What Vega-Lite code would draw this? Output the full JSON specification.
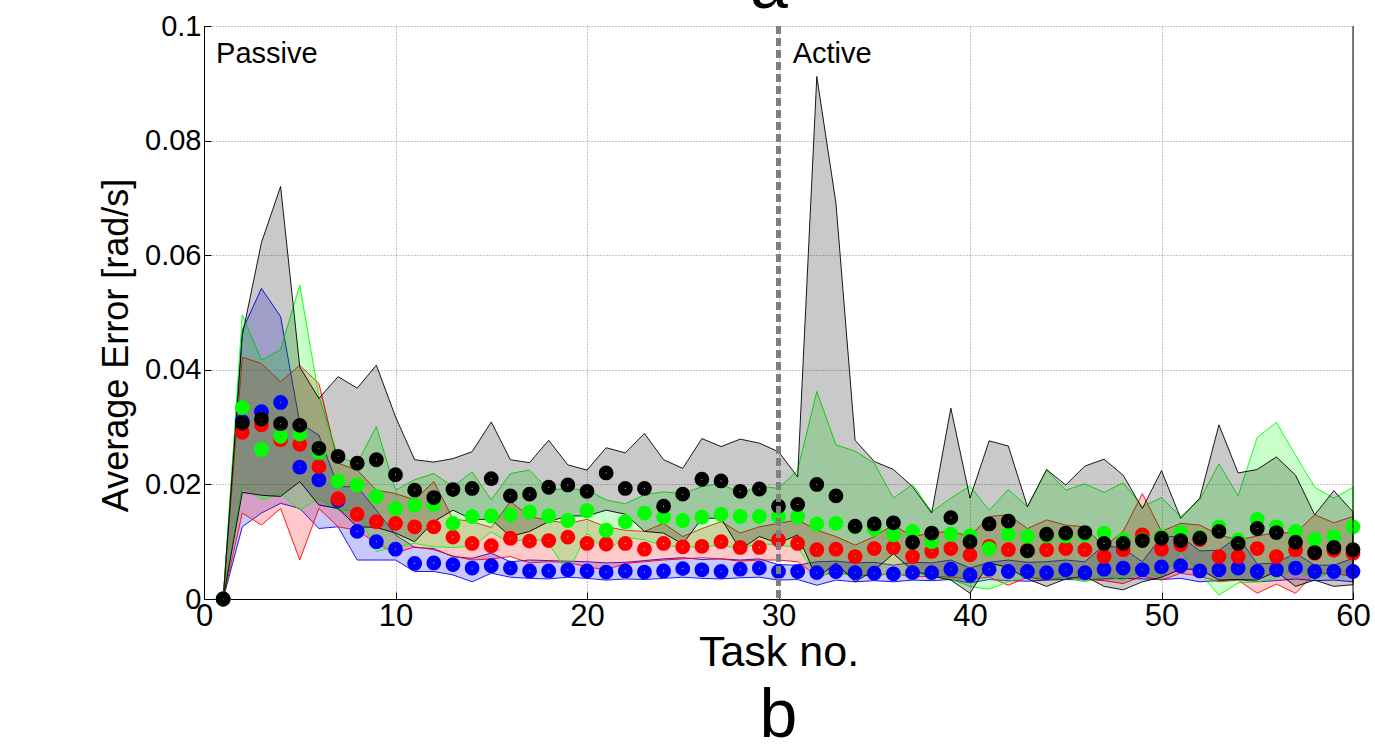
{
"$schema":"https://vega.github.io/schema/vega-lite/v6.json",
"autosize":"none","width":1149,"height":573,
"padding":{"left":204,"top":26,"right":22,"bottom":146},
"background":"white",
"title":{"text":"b","orient":"bottom","fontSize":68,"font":"Liberation Sans","fontWeight":"normal","anchor":"middle","offset":9,"color":"black"},
"config":{"view":{"stroke":null},"axis":{"domainColor":"black","tickColor":"black","labelColor":"black","titleColor":"black","labelFont":"Liberation Sans","titleFont":"Liberation Sans","titleFontWeight":"normal","gridColor":"#000","gridOpacity":0.45,"gridDash":[1,2],"gridWidth":1}},
"datasets":{"d":[
{"task":1,"series":"blue","mean":0,"lo":0,"hi":0},{"task":2,"series":"blue","mean":0.031,"lo":0.0126,"hi":0.0469},{"task":3,"series":"blue","mean":0.0327,"lo":0.015,"hi":0.0542},{"task":4,"series":"blue","mean":0.0343,"lo":0.0167,"hi":0.0493},{"task":5,"series":"blue","mean":0.023,"lo":0.0158,"hi":0.0307},{"task":6,"series":"blue","mean":0.0208,"lo":0.0123,"hi":0.0286},{"task":7,"series":"blue","mean":0.0172,"lo":0.0126,"hi":0.0196},{"task":8,"series":"blue","mean":0.0118,"lo":0.0068,"hi":0.0196},{"task":9,"series":"blue","mean":0.01,"lo":0.0068,"hi":0.0155},{"task":10,"series":"blue","mean":0.0087,"lo":0.0068,"hi":0.0112},
{"task":11,"series":"blue","mean":0.0062,"lo":0.0048,"hi":0.009},{"task":12,"series":"blue","mean":0.0063,"lo":0.0048,"hi":0.0088},{"task":13,"series":"blue","mean":0.006,"lo":0.0042,"hi":0.0074},{"task":14,"series":"blue","mean":0.0054,"lo":0.003,"hi":0.0071},{"task":15,"series":"blue","mean":0.0058,"lo":0.0045,"hi":0.008},{"task":16,"series":"blue","mean":0.0054,"lo":0.0038,"hi":0.0065},{"task":17,"series":"blue","mean":0.0049,"lo":0.0036,"hi":0.0068},{"task":18,"series":"blue","mean":0.0049,"lo":0.0035,"hi":0.0067},{"task":19,"series":"blue","mean":0.0051,"lo":0.0038,"hi":0.0066},{"task":20,"series":"blue","mean":0.0049,"lo":0.0036,"hi":0.0065},
{"task":21,"series":"blue","mean":0.0047,"lo":0.0033,"hi":0.0063},{"task":22,"series":"blue","mean":0.0049,"lo":0.0035,"hi":0.0064},{"task":23,"series":"blue","mean":0.0047,"lo":0.0034,"hi":0.0067},{"task":24,"series":"blue","mean":0.0049,"lo":0.0036,"hi":0.007},{"task":25,"series":"blue","mean":0.0053,"lo":0.0038,"hi":0.0072},{"task":26,"series":"blue","mean":0.0051,"lo":0.0036,"hi":0.0069},{"task":27,"series":"blue","mean":0.0048,"lo":0.0035,"hi":0.007},{"task":28,"series":"blue","mean":0.0052,"lo":0.0037,"hi":0.0068},{"task":29,"series":"blue","mean":0.0054,"lo":0.0038,"hi":0.007},{"task":30,"series":"blue","mean":0.0048,"lo":0.0033,"hi":0.006},
{"task":31,"series":"blue","mean":0.0048,"lo":0.0034,"hi":0.0059},{"task":32,"series":"blue","mean":0.0046,"lo":0.0024,"hi":0.0065},{"task":33,"series":"blue","mean":0.0048,"lo":0.0033,"hi":0.0066},{"task":34,"series":"blue","mean":0.0046,"lo":0.003,"hi":0.0063},{"task":35,"series":"blue","mean":0.0045,"lo":0.0032,"hi":0.0064},{"task":36,"series":"blue","mean":0.0044,"lo":0.003,"hi":0.0059},{"task":37,"series":"blue","mean":0.0046,"lo":0.0033,"hi":0.0064},{"task":38,"series":"blue","mean":0.0046,"lo":0.0032,"hi":0.0063},{"task":39,"series":"blue","mean":0.0052,"lo":0.0034,"hi":0.0068},{"task":40,"series":"blue","mean":0.0042,"lo":0.0028,"hi":0.0054},
{"task":41,"series":"blue","mean":0.0052,"lo":0.0034,"hi":0.0064},{"task":42,"series":"blue","mean":0.0048,"lo":0.0032,"hi":0.0068},{"task":43,"series":"blue","mean":0.0048,"lo":0.0031,"hi":0.0064},{"task":44,"series":"blue","mean":0.0046,"lo":0.0033,"hi":0.0065},{"task":45,"series":"blue","mean":0.0051,"lo":0.0034,"hi":0.0068},{"task":46,"series":"blue","mean":0.0046,"lo":0.0033,"hi":0.0065},{"task":47,"series":"blue","mean":0.0052,"lo":0.0035,"hi":0.0094},{"task":48,"series":"blue","mean":0.0054,"lo":0.0036,"hi":0.0088},{"task":49,"series":"blue","mean":0.0051,"lo":0.0035,"hi":0.0065},{"task":50,"series":"blue","mean":0.0056,"lo":0.0034,"hi":0.0109},
{"task":51,"series":"blue","mean":0.0058,"lo":0.0036,"hi":0.0109},{"task":52,"series":"blue","mean":0.0049,"lo":0.003,"hi":0.0084},{"task":53,"series":"blue","mean":0.0051,"lo":0.0032,"hi":0.0085},{"task":54,"series":"blue","mean":0.0054,"lo":0.0034,"hi":0.0109},{"task":55,"series":"blue","mean":0.0048,"lo":0.003,"hi":0.0061},{"task":56,"series":"blue","mean":0.0051,"lo":0.0032,"hi":0.0063},{"task":57,"series":"blue","mean":0.0054,"lo":0.0035,"hi":0.008},{"task":58,"series":"blue","mean":0.0048,"lo":0.0032,"hi":0.0059},{"task":59,"series":"blue","mean":0.0048,"lo":0.0033,"hi":0.0059},{"task":60,"series":"blue","mean":0.0048,"lo":0.003,"hi":0.0071},
{"task":1,"series":"red","mean":0,"lo":0,"hi":0},{"task":2,"series":"red","mean":0.0291,"lo":0.015,"hi":0.0422},{"task":3,"series":"red","mean":0.0304,"lo":0.0129,"hi":0.0411},{"task":4,"series":"red","mean":0.0278,"lo":0.0158,"hi":0.0379},{"task":5,"series":"red","mean":0.027,"lo":0.0068,"hi":0.0408},{"task":6,"series":"red","mean":0.0231,"lo":0.0158,"hi":0.0376},{"task":7,"series":"red","mean":0.0175,"lo":0.0126,"hi":0.0237},{"task":8,"series":"red","mean":0.0148,"lo":0.012,"hi":0.0225},{"task":9,"series":"red","mean":0.0135,"lo":0.0097,"hi":0.019},{"task":10,"series":"red","mean":0.0132,"lo":0.008,"hi":0.0184},
{"task":11,"series":"red","mean":0.0126,"lo":0.0091,"hi":0.0173},{"task":12,"series":"red","mean":0.0126,"lo":0.0086,"hi":0.0205},{"task":13,"series":"red","mean":0.0108,"lo":0.0075,"hi":0.014},{"task":14,"series":"red","mean":0.0097,"lo":0.0068,"hi":0.0135},{"task":15,"series":"red","mean":0.0093,"lo":0.007,"hi":0.0125},{"task":16,"series":"red","mean":0.0106,"lo":0.0074,"hi":0.017},{"task":17,"series":"red","mean":0.0101,"lo":0.0063,"hi":0.0144},{"task":18,"series":"red","mean":0.0102,"lo":0.0065,"hi":0.0137},{"task":19,"series":"red","mean":0.0108,"lo":0.0064,"hi":0.0132},{"task":20,"series":"red","mean":0.0097,"lo":0.0056,"hi":0.0139},
{"task":21,"series":"red","mean":0.0096,"lo":0.0051,"hi":0.0126},{"task":22,"series":"red","mean":0.0097,"lo":0.0062,"hi":0.012},{"task":23,"series":"red","mean":0.0087,"lo":0.0065,"hi":0.0118},{"task":24,"series":"red","mean":0.0097,"lo":0.0068,"hi":0.0132},{"task":25,"series":"red","mean":0.0091,"lo":0.007,"hi":0.0109},{"task":26,"series":"red","mean":0.0092,"lo":0.0072,"hi":0.0123},{"task":27,"series":"red","mean":0.01,"lo":0.007,"hi":0.0135},{"task":28,"series":"red","mean":0.009,"lo":0.0066,"hi":0.0115},{"task":29,"series":"red","mean":0.009,"lo":0.0068,"hi":0.0126},{"task":30,"series":"red","mean":0.0103,"lo":0.0068,"hi":0.0132},
{"task":31,"series":"red","mean":0.0097,"lo":0.0065,"hi":0.0138},{"task":32,"series":"red","mean":0.0086,"lo":0.004,"hi":0.012},{"task":33,"series":"red","mean":0.0087,"lo":0.0047,"hi":0.0109},{"task":34,"series":"red","mean":0.0074,"lo":0.0042,"hi":0.0094},{"task":35,"series":"red","mean":0.0088,"lo":0.004,"hi":0.0109},{"task":36,"series":"red","mean":0.009,"lo":0.0045,"hi":0.0129},{"task":37,"series":"red","mean":0.0074,"lo":0.0038,"hi":0.0109},{"task":38,"series":"red","mean":0.0083,"lo":0.004,"hi":0.0115},{"task":39,"series":"red","mean":0.0088,"lo":0.0038,"hi":0.0118},{"task":40,"series":"red","mean":0.0077,"lo":0.0035,"hi":0.0109},
{"task":41,"series":"red","mean":0.0092,"lo":0.0038,"hi":0.0144},{"task":42,"series":"red","mean":0.0086,"lo":0.0024,"hi":0.0147},{"task":43,"series":"red","mean":0.0085,"lo":0.0038,"hi":0.0123},{"task":44,"series":"red","mean":0.0086,"lo":0.0033,"hi":0.0138},{"task":45,"series":"red","mean":0.0088,"lo":0.0038,"hi":0.0129},{"task":46,"series":"red","mean":0.0086,"lo":0.0035,"hi":0.0126},{"task":47,"series":"red","mean":0.0074,"lo":0.0032,"hi":0.0091},{"task":48,"series":"red","mean":0.0086,"lo":0.0027,"hi":0.0118},{"task":49,"series":"red","mean":0.0112,"lo":0.004,"hi":0.0184},{"task":50,"series":"red","mean":0.0087,"lo":0.0033,"hi":0.0118},
{"task":51,"series":"red","mean":0.0095,"lo":0.0045,"hi":0.0132},{"task":52,"series":"red","mean":0.0104,"lo":0.004,"hi":0.0129},{"task":53,"series":"red","mean":0.0074,"lo":0.003,"hi":0.0112},{"task":54,"series":"red","mean":0.0074,"lo":0.0033,"hi":0.0103},{"task":55,"series":"red","mean":0.0088,"lo":0.001,"hi":0.011},{"task":56,"series":"red","mean":0.0074,"lo":0.0026,"hi":0.0116},{"task":57,"series":"red","mean":0.0086,"lo":0.001,"hi":0.0115},{"task":58,"series":"red","mean":0.008,"lo":0.0045,"hi":0.0147},{"task":59,"series":"red","mean":0.0085,"lo":0.0045,"hi":0.0133},{"task":60,"series":"red","mean":0.008,"lo":0.0039,"hi":0.0144},
{"task":1,"series":"green","mean":0,"lo":0,"hi":0},{"task":2,"series":"green","mean":0.0334,"lo":0.0199,"hi":0.0496},{"task":3,"series":"green","mean":0.0261,"lo":0.0173,"hi":0.0417},{"task":4,"series":"green","mean":0.0284,"lo":0.0184,"hi":0.0435},{"task":5,"series":"green","mean":0.0288,"lo":0.0155,"hi":0.0548},{"task":6,"series":"green","mean":0.0256,"lo":0.0176,"hi":0.0353},{"task":7,"series":"green","mean":0.0206,"lo":0.0155,"hi":0.0248},{"task":8,"series":"green","mean":0.0199,"lo":0.0155,"hi":0.0237},{"task":9,"series":"green","mean":0.0179,"lo":0.0083,"hi":0.0301},{"task":10,"series":"green","mean":0.0158,"lo":0.0091,"hi":0.019},
{"task":11,"series":"green","mean":0.0164,"lo":0.0097,"hi":0.0208},{"task":12,"series":"green","mean":0.0165,"lo":0.0091,"hi":0.0219},{"task":13,"series":"green","mean":0.0132,"lo":0.009,"hi":0.0196},{"task":14,"series":"green","mean":0.0144,"lo":0.0092,"hi":0.0222},{"task":15,"series":"green","mean":0.0145,"lo":0.0117,"hi":0.0173},{"task":16,"series":"green","mean":0.0147,"lo":0.0097,"hi":0.0219},{"task":17,"series":"green","mean":0.0152,"lo":0.0108,"hi":0.0225},{"task":18,"series":"green","mean":0.0145,"lo":0.0097,"hi":0.019},{"task":19,"series":"green","mean":0.0137,"lo":0.0045,"hi":0.0193},{"task":20,"series":"green","mean":0.0154,"lo":0.0115,"hi":0.019},
{"task":21,"series":"green","mean":0.012,"lo":0.0083,"hi":0.0173},{"task":22,"series":"green","mean":0.0135,"lo":0.0108,"hi":0.0166},{"task":23,"series":"green","mean":0.015,"lo":0.0103,"hi":0.0182},{"task":24,"series":"green","mean":0.0143,"lo":0.0093,"hi":0.0187},{"task":25,"series":"green","mean":0.0137,"lo":0.0091,"hi":0.0184},{"task":26,"series":"green","mean":0.0143,"lo":0.0091,"hi":0.0196},{"task":27,"series":"green","mean":0.0148,"lo":0.0094,"hi":0.0202},{"task":28,"series":"green","mean":0.0144,"lo":0.0088,"hi":0.0184},{"task":29,"series":"green","mean":0.0144,"lo":0.0097,"hi":0.0197},{"task":30,"series":"green","mean":0.0144,"lo":0.0094,"hi":0.0193},
{"task":31,"series":"green","mean":0.0144,"lo":0.009,"hi":0.0225},{"task":32,"series":"green","mean":0.0131,"lo":0.004,"hi":0.0362},{"task":33,"series":"green","mean":0.0132,"lo":0.0045,"hi":0.0269},{"task":34,"series":"green","mean":0.0126,"lo":0.004,"hi":0.0258},{"task":35,"series":"green","mean":0.0122,"lo":0.0045,"hi":0.0237},{"task":36,"series":"green","mean":0.0112,"lo":0.0042,"hi":0.0176},{"task":37,"series":"green","mean":0.0118,"lo":0.0045,"hi":0.02},{"task":38,"series":"green","mean":0.01,"lo":0.004,"hi":0.0152},{"task":39,"series":"green","mean":0.0113,"lo":0.0035,"hi":0.0176},{"task":40,"series":"green","mean":0.011,"lo":0.0022,"hi":0.0197},
{"task":41,"series":"green","mean":0.0088,"lo":0.0017,"hi":0.0155},{"task":42,"series":"green","mean":0.0113,"lo":0.003,"hi":0.0191},{"task":43,"series":"green","mean":0.0109,"lo":0.004,"hi":0.0161},{"task":44,"series":"green","mean":0.011,"lo":0.0035,"hi":0.0225},{"task":45,"series":"green","mean":0.011,"lo":0.0038,"hi":0.019},{"task":46,"series":"green","mean":0.0112,"lo":0.003,"hi":0.0201},{"task":47,"series":"green","mean":0.0115,"lo":0.004,"hi":0.0186},{"task":48,"series":"green","mean":0.0103,"lo":0.0033,"hi":0.0203},{"task":49,"series":"green","mean":0.0103,"lo":0.005,"hi":0.0161},{"task":50,"series":"green","mean":0.0109,"lo":0.0035,"hi":0.0177},
{"task":51,"series":"green","mean":0.0116,"lo":0.0083,"hi":0.0144},{"task":52,"series":"green","mean":0.0108,"lo":0.0045,"hi":0.0173},{"task":53,"series":"green","mean":0.0126,"lo":0.0007,"hi":0.0236},{"task":54,"series":"green","mean":0.0103,"lo":0.0028,"hi":0.018},{"task":55,"series":"green","mean":0.0139,"lo":0.003,"hi":0.0282},{"task":56,"series":"green","mean":0.0126,"lo":0.0036,"hi":0.0308},{"task":57,"series":"green","mean":0.0118,"lo":0.0054,"hi":0.0251},{"task":58,"series":"green","mean":0.0104,"lo":0.0034,"hi":0.0195},{"task":59,"series":"green","mean":0.0109,"lo":0.005,"hi":0.0176},{"task":60,"series":"green","mean":0.0126,"lo":0.0042,"hi":0.0195},
{"task":1,"series":"black","mean":0,"lo":0,"hi":0},{"task":2,"series":"black","mean":0.0307,"lo":0.0186,"hi":0.046},{"task":3,"series":"black","mean":0.0314,"lo":0.0181,"hi":0.0622},{"task":4,"series":"black","mean":0.0306,"lo":0.0179,"hi":0.072},{"task":5,"series":"black","mean":0.0303,"lo":0.0205,"hi":0.0405},{"task":6,"series":"black","mean":0.0263,"lo":0.0164,"hi":0.035},{"task":7,"series":"black","mean":0.0249,"lo":0.0158,"hi":0.0388},{"task":8,"series":"black","mean":0.0237,"lo":0.0126,"hi":0.0368},{"task":9,"series":"black","mean":0.0243,"lo":0.0125,"hi":0.0408},{"task":10,"series":"black","mean":0.0217,"lo":0.0115,"hi":0.0318},
{"task":11,"series":"black","mean":0.019,"lo":0.01,"hi":0.0243},{"task":12,"series":"black","mean":0.0177,"lo":0.0135,"hi":0.0239},{"task":13,"series":"black","mean":0.0191,"lo":0.0155,"hi":0.0245},{"task":14,"series":"black","mean":0.0193,"lo":0.0139,"hi":0.0257},{"task":15,"series":"black","mean":0.021,"lo":0.0139,"hi":0.0309},{"task":16,"series":"black","mean":0.018,"lo":0.0109,"hi":0.0243},{"task":17,"series":"black","mean":0.0183,"lo":0.0118,"hi":0.0238},{"task":18,"series":"black","mean":0.0195,"lo":0.0135,"hi":0.0277},{"task":19,"series":"black","mean":0.0199,"lo":0.0145,"hi":0.0234},{"task":20,"series":"black","mean":0.0188,"lo":0.0145,"hi":0.0225},
{"task":21,"series":"black","mean":0.022,"lo":0.0155,"hi":0.0264},{"task":22,"series":"black","mean":0.0193,"lo":0.0148,"hi":0.0255},{"task":23,"series":"black","mean":0.0193,"lo":0.0118,"hi":0.0289},{"task":24,"series":"black","mean":0.0162,"lo":0.0115,"hi":0.0243},{"task":25,"series":"black","mean":0.0183,"lo":0.0096,"hi":0.0228},{"task":26,"series":"black","mean":0.0209,"lo":0.0141,"hi":0.028},{"task":27,"series":"black","mean":0.0206,"lo":0.0141,"hi":0.0266},{"task":28,"series":"black","mean":0.0188,"lo":0.0086,"hi":0.0279},{"task":29,"series":"black","mean":0.0192,"lo":0.0109,"hi":0.0272},{"task":30,"series":"black","mean":0.0162,"lo":0.0097,"hi":0.0257},
{"task":31,"series":"black","mean":0.0165,"lo":0.0112,"hi":0.0213},{"task":32,"series":"black","mean":0.02,"lo":0.0036,"hi":0.0912},{"task":33,"series":"black","mean":0.018,"lo":0.0063,"hi":0.0691},{"task":34,"series":"black","mean":0.0127,"lo":0.003,"hi":0.0277},{"task":35,"series":"black","mean":0.0131,"lo":0.005,"hi":0.024},{"task":36,"series":"black","mean":0.0133,"lo":0.0079,"hi":0.0226},{"task":37,"series":"black","mean":0.0099,"lo":0.005,"hi":0.0196},{"task":38,"series":"black","mean":0.0115,"lo":0.004,"hi":0.015},{"task":39,"series":"black","mean":0.0142,"lo":0.0033,"hi":0.0333},{"task":40,"series":"black","mean":0.01,"lo":0.001,"hi":0.0176},
{"task":41,"series":"black","mean":0.0131,"lo":0.0063,"hi":0.0276},{"task":42,"series":"black","mean":0.0136,"lo":0.0055,"hi":0.0267},{"task":43,"series":"black","mean":0.0084,"lo":0.0035,"hi":0.0161},{"task":44,"series":"black","mean":0.0113,"lo":0.0022,"hi":0.0226},{"task":45,"series":"black","mean":0.0115,"lo":0.0035,"hi":0.0199},{"task":46,"series":"black","mean":0.0116,"lo":0.004,"hi":0.0232},{"task":47,"series":"black","mean":0.0097,"lo":0.0022,"hi":0.0244},{"task":48,"series":"black","mean":0.0097,"lo":0.0016,"hi":0.0216},{"task":49,"series":"black","mean":0.0102,"lo":0.003,"hi":0.0158},{"task":50,"series":"black","mean":0.0106,"lo":0.0038,"hi":0.0224},
{"task":51,"series":"black","mean":0.0102,"lo":0.0052,"hi":0.0141},{"task":52,"series":"black","mean":0.0106,"lo":0.0052,"hi":0.0176},{"task":53,"series":"black","mean":0.0118,"lo":0.0033,"hi":0.0304},{"task":54,"series":"black","mean":0.0097,"lo":0.0034,"hi":0.022},{"task":55,"series":"black","mean":0.0123,"lo":0.0033,"hi":0.0226},{"task":56,"series":"black","mean":0.0116,"lo":0.0048,"hi":0.0248},{"task":57,"series":"black","mean":0.0099,"lo":0.0022,"hi":0.0216},{"task":58,"series":"black","mean":0.0081,"lo":0.0033,"hi":0.0147},{"task":59,"series":"black","mean":0.009,"lo":0.0022,"hi":0.0189},{"task":60,"series":"black","mean":0.0086,"lo":0.0025,"hi":0.0152}
],
"notes":[{"task":0.63,"value":0.0935,"label":"Passive"},{"task":30.74,"value":0.0936,"label":"Active"}],
"panel":[{"task":29.5,"value":0.1032,"label":"a"}],
"marks":[{"task":30,"kind":"boundary"}],
"frame":[{"task":60,"kind":"frame"}]},
"layer":[
{"data":{"name":"d"},
 "mark":{"type":"area","fillOpacity":0.21,"strokeWidth":0.9,"strokeOpacity":1},
 "encoding":{
  "x":{"field":"task","type":"quantitative","scale":{"domain":[0,60],"nice":false},"axis":{"values":[0,10,20,30,40,50,60],"format":"d","title":"Task no.","grid":true,"labelFontSize":31,"labelPadding":9,"tickSize":-7,"labelFlush":false,"titleFontSize":43,"titleY":53,"titleBaseline":"middle"}},
  "y":{"field":"lo","type":"quantitative","scale":{"domain":[0,0.1],"nice":false},"axis":{"values":[0,0.02,0.04,0.06,0.08,0.1],"format":".2~f","title":"Average Error [rad/s]","grid":true,"labelFontSize":29,"labelPadding":10,"tickSize":-7,"labelFlush":false,"titleFontSize":36,"titleX":-88,"titleY":319,"titleAngle":-90,"titleBaseline":"middle","titleAlign":"center"}},
  "y2":{"field":"hi"},
  "color":{"field":"series","type":"nominal","scale":{"domain":["black","green","red","blue"],"range":["#000000","#00ff00","#ff0000","#0000ff"]},"legend":null},
  "stroke":{"field":"series","type":"nominal","scale":{"domain":["black","green","red","blue"],"range":["#000000","#00ff00","#ff0000","#0000ff"]},"legend":null}
 }},
{"data":{"name":"d"},
 "mark":{"type":"point","shape":"circle","filled":false,"size":64,"strokeWidth":6.8,"opacity":1},
 "encoding":{
  "x":{"field":"task","type":"quantitative","title":"Task no."},
  "y":{"field":"mean","type":"quantitative","title":"Average Error [rad/s]"},
  "color":{"field":"series","type":"nominal","scale":{"domain":["black","green","red","blue"],"range":["#000000","#00ff00","#ff0000","#0000ff"]},"legend":null}
 }},
{"data":{"name":"marks"},
 "mark":{"type":"rule","color":"#808080","strokeWidth":5,"strokeDash":[8,4]},
 "encoding":{"x":{"field":"task","type":"quantitative","title":"Task no."}}},
{"data":{"name":"frame"},
 "mark":{"type":"rule","color":"#000000","strokeWidth":1},
 "encoding":{"x":{"field":"task","type":"quantitative","title":"Task no."}}},
{"data":{"name":"notes"},
 "mark":{"type":"text","align":"left","baseline":"alphabetic","fontSize":29,"font":"Liberation Sans","color":"black"},
 "encoding":{"x":{"field":"task","type":"quantitative","title":"Task no."},"y":{"field":"value","type":"quantitative","title":"Average Error [rad/s]"},"text":{"field":"label"}}},
{"data":{"name":"panel"},
 "mark":{"type":"text","align":"center","baseline":"alphabetic","fontSize":68,"font":"Liberation Sans","color":"black"},
 "encoding":{"x":{"field":"task","type":"quantitative","title":"Task no."},"y":{"field":"value","type":"quantitative","title":"Average Error [rad/s]"},"text":{"field":"label"}}}
]
}
